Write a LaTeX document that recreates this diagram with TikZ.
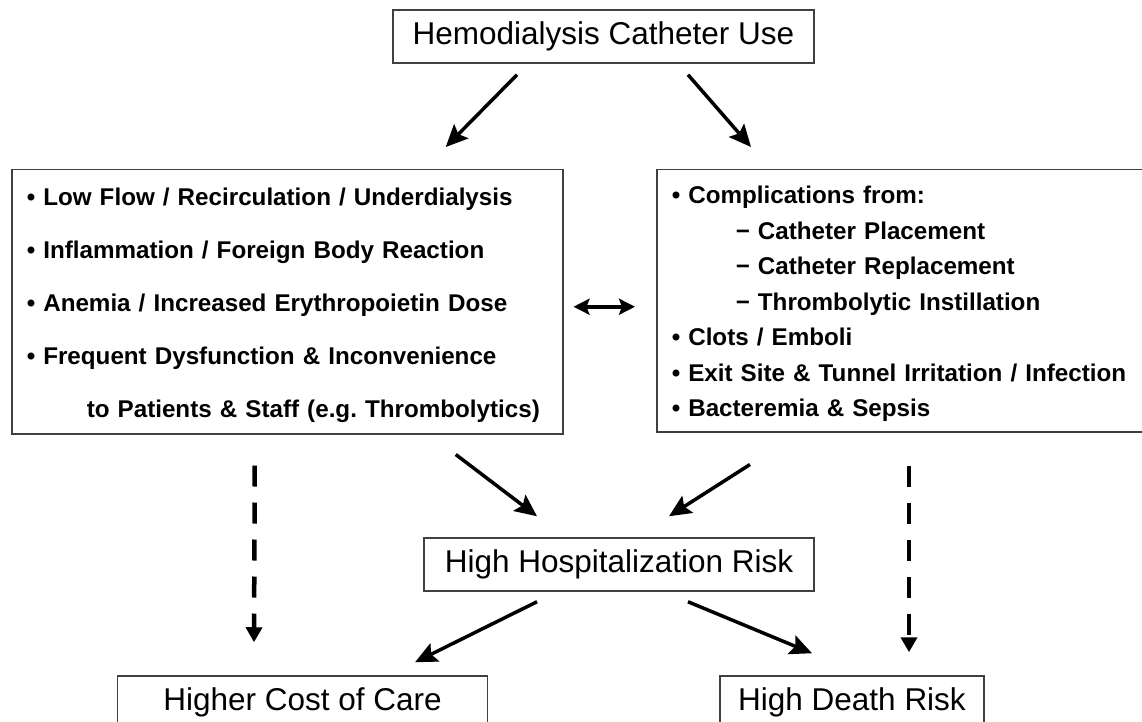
\documentclass[tikz,border=0pt]{standalone}
\usepackage{fontspec}
\setmainfont{Liberation Sans}
\usetikzlibrary{arrows.meta,calc}

\tikzset{
  box/.style={draw=black!75, line width=1.5pt, inner sep=0pt},
  mainbox/.style={box, minimum height=53pt, font=\fontsize{31.5}{36}\selectfont},
  listbox/.style={box, anchor=north west, align=left, inner xsep=15pt},
  arr/.style={line width=3.5pt, -{Stealth[length=22pt,width=20pt,inset=4pt]}},
  dasharr/.style={line width=4.5pt, dash pattern=on 21pt off 16pt, -{Triangle[length=15pt,width=16pt]}},
}

\begin{document}
\frenchspacing
\begin{tikzpicture}[x=1pt,y=-1pt]
\useasboundingbox (0,0) rectangle (1142,722);

% boxes
\node[mainbox, minimum width=421pt] (catheter) at (603.5,36.5) {Hemodialysis Catheter Use};

\node[listbox, text width=521pt, minimum height=264pt,
      font=\bfseries\fontsize{24.2}{53}\selectfont] (dysfunc) at (11,169)
  {\rule{0pt}{24pt}\mbox{• Low Flow / Recirculation / Underdialysis}\\
   \mbox{• Inflammation / Foreign Body Reaction}\\
   \mbox{• Anemia / Increased Erythropoietin Dose}\\
   \mbox{• Frequent Dysfunction \& Inconvenience}\\
   \mbox{\hspace*{60pt}to Patients \& Staff (e.g. Thrombolytics)}};

\node[listbox, text width=470pt, minimum height=262pt,
      font=\bfseries\fontsize{24.2}{35.5}\selectfont] (compl) at (656,169)
  {\rule{0pt}{24pt}\mbox{• Complications from:}\\
   \mbox{\hspace*{64pt}− Catheter Placement}\\
   \mbox{\hspace*{64pt}− Catheter Replacement}\\
   \mbox{\hspace*{64pt}− Thrombolytic Instillation}\\
   \mbox{• Clots / Emboli}\\
   \mbox{• Exit Site \& Tunnel Irritation / Infection}\\
   \mbox{• Bacteremia \& Sepsis}};

\node[mainbox, minimum width=390pt] (hosp) at (619,564.5) {High Hospitalization Risk};
\node[mainbox, minimum width=370pt] (cost) at (302.5,702.5) {Higher Cost of Care};
\node[mainbox, minimum width=264pt] (death) at (852,702.5) {High Death Risk};

% solid arrows
\draw[arr] ($(catheter.south)+(-86.5,11)$) -- ($(dysfunc.north)+(158.5,-22)$);
\draw[arr] ($(catheter.south)+(84.5,11)$) -- ($(compl.north west)+(95,-22)$);
\draw[arr] ($(dysfunc.south)+(168.5,20)$) -- ($(hosp.north)+(-82,-21)$);
\draw[arr] ($(compl.south west)+(94,32)$) -- ($(hosp.north)+(50,-21)$);
\draw[arr] ($(hosp.south)+(-82,10)$) -- ($(cost.north)+(112.5,-13)$);
\draw[arr] ($(hosp.south)+(69,10)$) -- ($(death.north)+(-40,-22)$);

% two way arrow
\draw[line width=3.5pt, {Stealth[length=16pt,width=16pt,inset=3pt]}-{Stealth[length=16pt,width=16pt,inset=3pt]}]
  ($(dysfunc.east)+(10,5)$) -- ($(compl.west)+(-21,6)$);

% dashed arrows
\draw[dasharr] ($(dysfunc.south)+(-32.5,31)$) -- ($(cost.north)+(-48.5,-33)$);
\draw[dasharr] ($(compl.south west)+(253,33)$) -- ($(death.north)+(57,-23)$);
\end{tikzpicture}
\end{document}
